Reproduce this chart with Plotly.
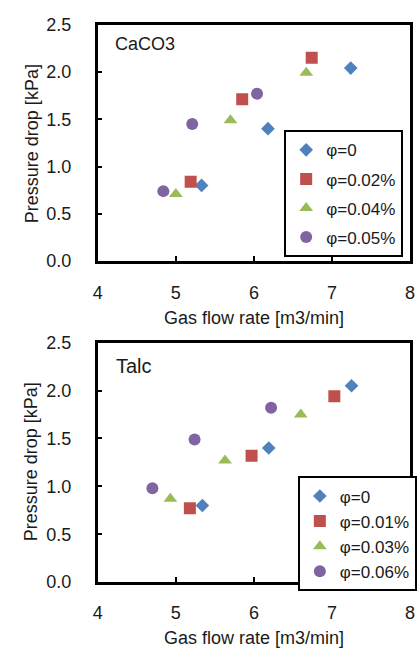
import plotly.graph_objects as go

# ---- data ----
caco3_labels = ["φ=0", "φ=0.02%", "φ=0.04%", "φ=0.05%"]
caco3_x = [
    [5.33, 6.18, 7.24],
    [5.19, 5.85, 6.74],
    [5.00, 5.70, 6.67],
    [4.84, 5.21, 6.04],
]
caco3_y = [
    [0.80, 1.40, 2.04],
    [0.84, 1.71, 2.15],
    [0.71, 1.49, 1.99],
    [0.74, 1.45, 1.77],
]

talc_labels = ["φ=0", "φ=0.01%", "φ=0.03%", "φ=0.06%"]
talc_x = [
    [5.34, 6.19, 7.25],
    [5.18, 5.97, 7.03],
    [4.93, 5.63, 6.60],
    [4.70, 5.24, 6.22],
]
talc_y = [
    [0.80, 1.40, 2.05],
    [0.77, 1.32, 1.94],
    [0.87, 1.27, 1.75],
    [0.98, 1.49, 1.82],
]

x_ticks = [4, 5, 6, 7, 8]
y_ticks = [0.0, 0.5, 1.0, 1.5, 2.0, 2.5]
y_ticktext = ["0.0", "0.5", "1.0", "1.5", "2.0", "2.5"]

colors = ["#4F81BD", "#C0504D", "#9BBB59", "#8064A2"]
symbols = ["diamond", "square", "triangle-up", "circle"]
sizes = [10.5, 12, 12, 12]

W, H = 419, 661
FONT = "Liberation Sans, Arial, sans-serif"
TXT = "#1a1a1a"

fig = go.Figure()

for i in range(4):
    fig.add_trace(go.Scatter(
        x=caco3_x[i], y=caco3_y[i], mode="markers", name=caco3_labels[i],
        marker=dict(color=colors[i], symbol=symbols[i], size=sizes[i], line=dict(width=0)),
        xaxis="x", yaxis="y", legend="legend", legendgroup="a%d" % i,
    ))
for i in range(4):
    fig.add_trace(go.Scatter(
        x=talc_x[i], y=talc_y[i], mode="markers", name=talc_labels[i],
        marker=dict(color=colors[i], symbol=symbols[i], size=sizes[i], line=dict(width=0)),
        xaxis="x2", yaxis="y2", legend="legend2",
    ))

def px_x(p):
    return p / W

def px_y(p):
    return 1 - p / H

xdom = [px_x(95), px_x(415)]
common_x = dict(
    range=[4, 8], tickvals=x_ticks, ticks="inside", ticklen=5, tickwidth=2,
    tickcolor="#000", showline=True, linecolor="#000", linewidth=2.5, mirror=True,
    showgrid=False, zeroline=False, ticklabelstandoff=13,
    tickfont=dict(family=FONT, size=18, color=TXT), fixedrange=True,
)
common_y = dict(
    range=[0, 2.5], tickvals=y_ticks, ticktext=y_ticktext, ticks="inside", ticklen=5,
    tickwidth=2, tickcolor="#000", showline=True, linecolor="#000", linewidth=2.5,
    mirror=True, showgrid=False, zeroline=False, ticklabelstandoff=20,
    tickfont=dict(family=FONT, size=18, color=TXT), fixedrange=True,
)

fig.update_layout(
    width=W, height=H, margin=dict(l=0, r=0, t=0, b=0),
    paper_bgcolor="white", plot_bgcolor="white",
    xaxis=dict(domain=xdom, anchor="y", **common_x),
    yaxis=dict(domain=[px_y(259), px_y(15)], anchor="x", **common_y),
    xaxis2=dict(domain=xdom, anchor="y2", **common_x),
    yaxis2=dict(domain=[px_y(590), px_y(343)], anchor="x2", **common_y),
    legend=dict(
        x=px_x(286), y=px_y(124), xanchor="left", yanchor="top",
        bgcolor="white", bordercolor="#000", borderwidth=2,
        font=dict(family=FONT, size=17, color=TXT), tracegroupgap=4,
        itemwidth=30,
    ),
    legend2=dict(
        x=px_x(300), y=px_y(481), xanchor="left", yanchor="top",
        bgcolor="white", bordercolor="#000", borderwidth=2,
        font=dict(family=FONT, size=17, color=TXT),
        itemwidth=30,
    ),
    showlegend=True,
)

annos = [
    dict(text="CaCO3", x=px_x(111), y=px_y(35), size=18),
    dict(text="Talc", x=px_x(112), y=px_y(367), size=20),
]
for a in annos:
    fig.add_annotation(text=a["text"], x=a["x"], y=a["y"], xref="paper", yref="paper",
                       xanchor="left", yanchor="middle", showarrow=False,
                       font=dict(family=FONT, size=a["size"], color=TXT))

# axis titles
for yc in [318, 648]:
    fig.add_annotation(text="Gas flow rate [m3/min]", x=px_x(255), y=px_y(yc),
                       xref="paper", yref="paper", xanchor="center", yanchor="middle",
                       showarrow=False, font=dict(family=FONT, size=18, color=TXT))
for yc in [138, 466]:
    fig.add_annotation(text="Pressure drop [kPa]", x=px_x(27), y=px_y(yc),
                       xref="paper", yref="paper", xanchor="center", yanchor="middle",
                       textangle=-90, showarrow=False,
                       font=dict(family=FONT, size=18, color=TXT))

fig.write_html("out.html")
